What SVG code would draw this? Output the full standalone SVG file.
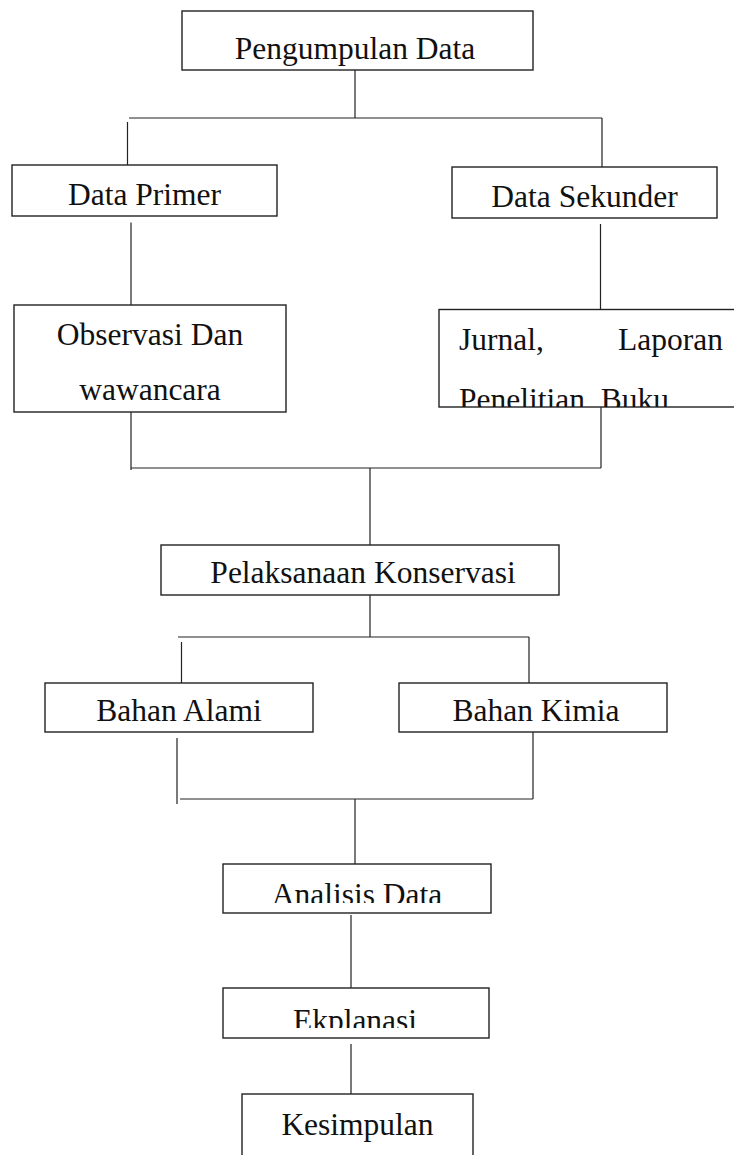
<svg xmlns="http://www.w3.org/2000/svg" width="734" height="1155" viewBox="0 0 734 1155">
<style>
.box{fill:#fff;stroke:#222;stroke-width:1.4}
.t{font-family:"Liberation Serif","Times New Roman",serif;font-size:31.5px;fill:#111}
.c{text-anchor:middle}
.ln{stroke:#222;stroke-width:1.2;fill:none}
</style>
<defs>
<clipPath id="clipJ"><rect x="439" y="309" width="300" height="98"/></clipPath>
<clipPath id="clipA"><rect x="223" y="864" width="268" height="39"/></clipPath>
<clipPath id="clipE"><rect x="223" y="988" width="266" height="40"/></clipPath>
</defs>
<rect width="734" height="1155" fill="#fff"/>
<g id="connectors">
<path class="ln" d="M355,70V117.5M129,118H602M127.5,122V165M602,118V167"/>
<path class="ln" d="M131,222.5V305M600.5,224V310"/>
<path class="ln" d="M131,412V470M601,407V468M131,468H601M370,468V545"/>
<path class="ln" d="M370,595V637M178,637H529M181.5,642V683M529,637V683"/>
<path class="ln" d="M177,738V804M533,732V799M180,799H533M355,799V864"/>
<path class="ln" d="M351,915V988M351,1044V1098"/>
</g>
<g id="pengumpulan">
<rect class="box" x="182" y="11" width="351" height="59"/>
<text class="t c" x="355" y="59">Pengumpulan Data</text>
</g>
<g id="data-primer">
<rect class="box" x="12" y="165" width="265" height="51"/>
<text class="t c" x="144.5" y="205">Data Primer</text>
</g>
<g id="data-sekunder">
<rect class="box" x="452" y="167" width="265" height="51"/>
<text class="t c" x="584.5" y="207">Data Sekunder</text>
</g>
<g id="observasi">
<rect class="box" x="14" y="305" width="272" height="107"/>
<text class="t c" x="150" y="345">Observasi Dan</text>
<text class="t c" x="150" y="400">wawancara</text>
</g>
<g id="jurnal">
<rect class="box" x="439" y="309.5" width="300" height="97.5"/>
<g clip-path="url(#clipJ)">
<text class="t" x="459" y="350">Jurnal,</text>
<text class="t" x="723" y="350" text-anchor="end">Laporan</text>
<text class="t" x="459" y="410">Penelitian, Buku</text>
</g>
</g>
<g id="pelaksanaan">
<rect class="box" x="161" y="545" width="398" height="50"/>
<text class="t c" x="363" y="583">Pelaksanaan Konservasi</text>
</g>
<g id="bahan-alami">
<rect class="box" x="45" y="683" width="268" height="49"/>
<text class="t c" x="179" y="721">Bahan Alami</text>
</g>
<g id="bahan-kimia">
<rect class="box" x="399" y="683" width="268" height="49"/>
<text class="t c" x="536" y="721">Bahan Kimia</text>
</g>
<g id="analisis">
<rect class="box" x="223" y="864" width="268" height="49"/>
<text class="t c" x="357" y="905" clip-path="url(#clipA)">Analisis Data</text>
</g>
<g id="ekplanasi">
<rect class="box" x="223" y="988" width="266" height="50"/>
<text class="t c" x="355" y="1031" clip-path="url(#clipE)">Ekplanasi</text>
</g>
<g id="kesimpulan">
<rect class="box" x="242" y="1094" width="231" height="70"/>
<text class="t c" x="357.5" y="1135">Kesimpulan</text>
</g>
</svg>
